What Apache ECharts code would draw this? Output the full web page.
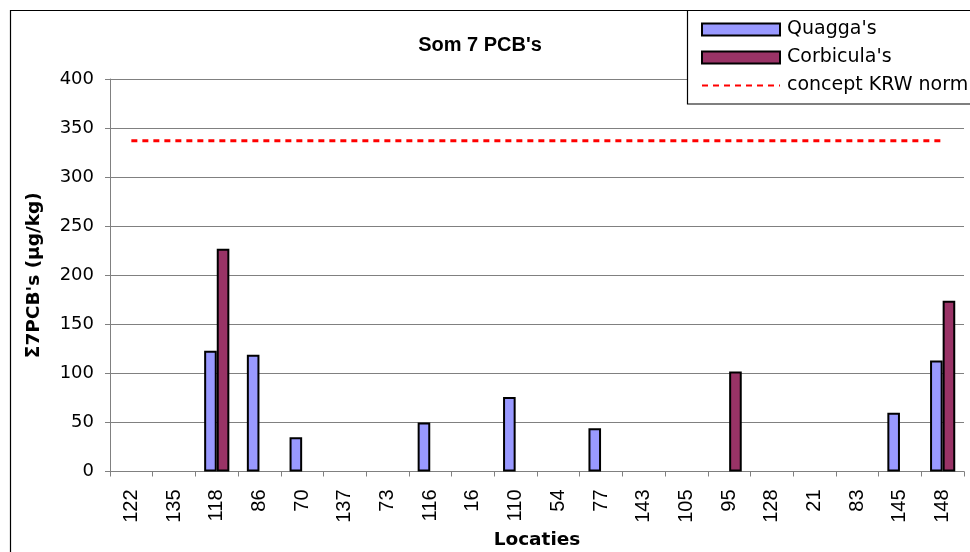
<!DOCTYPE html>
<html><head><meta charset="utf-8">
<script src="https://cdn.jsdelivr.net/npm/echarts@6/dist/echarts.min.js"></script>
<style>html,body{margin:0;padding:0;background:#fff}#c{width:970px;height:552px}</style>
</head><body><div id="c"></div>
<script>
var categories = ['122','135','118','86','70','137','73','116','16','110','54','77','143','105','95','128','21','83','145','148'];
var quagga =     [null, null, 123, 119, 35, null, null, 50, null, 76, null, 44, null, null, null, null, null, null, 60, 113];
var corbicula =  [null, null, 227, null, null, null, null, null, null, null, null, null, null, null, 102, null, null, null, null, 174];
var krwNorm = 337;
var krwLine = categories.map(function(){ return krwNorm; });
var yTicks = {min:0, max:400, interval:50};

var font = '"DejaVu Sans", sans-serif';
var fontA = '"Liberation Sans", Arial, sans-serif';
var chart = echarts.init(document.getElementById('c'), null, {renderer:'canvas'});
chart.setOption({
  animation:false,
  backgroundColor:'#fff',
  title:{text:"Som 7 PCB's", left:475, top:30, textAlign:'center',
    textStyle:{fontFamily:fontA, fontSize:20, fontWeight:'bold', color:'#000'}},
  graphic:[
    {type:'rect', shape:{x:10.5,y:10.5,width:1000,height:600}, style:{fill:null, stroke:'#000', lineWidth:1.2}, z:-1},
    {type:'rect', shape:{x:687.5,y:10.5,width:400,height:93.5}, style:{fill:'#fff', stroke:'#000', lineWidth:1.2}, z:1}
  ],
  legend:{orient:'vertical', left:696, top:15, itemWidth:78, itemHeight:12, itemGap:9, z:5,
    textStyle:{fontFamily:font, fontSize:19, color:'#000', padding:[0,0,0,2]},
    data:[{name:"Quagga's", icon:'rect'},{name:"Corbicula's", icon:'rect'},
      {name:"concept KRW norm", itemStyle:{opacity:0, borderWidth:0}}]},
  grid:{left:110, right:6, top:79, bottom:80.5, outerBoundsMode:'none', containLabel:false},
  xAxis:{type:'category', data:categories,
    name:'Locaties', nameLocation:'middle', nameGap:56,
    nameTextStyle:{fontFamily:font, fontSize:18.5, fontWeight:'bold', color:'#000'},
    axisLine:{lineStyle:{color:'#808080', width:1}},
    axisTick:{show:true, length:5, lineStyle:{color:'#808080'}},
    axisLabel:{rotate:90, fontFamily:fontA, fontSize:20, color:'#000', margin:18, interval:0},
    splitLine:{show:false}},
  yAxis:{type:'value', min:yTicks.min, max:yTicks.max, interval:yTicks.interval,
    name:"Σ7PCB's (µg/kg)", nameLocation:'middle', nameGap:66, nameRotate:90,
    nameTextStyle:{fontFamily:font, fontSize:18.5, fontWeight:'bold', color:'#000'},
    axisLine:{show:true, lineStyle:{color:'#808080', width:1}},
    axisTick:{show:true, length:5, lineStyle:{color:'#808080'}},
    axisLabel:{fontFamily:font, fontSize:18, color:'#000', margin:16},
    splitLine:{lineStyle:{color:'#808080', width:1}}},
  series:[
    {name:"Quagga's", type:'bar', data:quagga, barGap:'0%', barCategoryGap:'41%',
      itemStyle:{color:'#9999FF', borderColor:'#000', borderWidth:2}},
    {name:"Corbicula's", type:'bar', data:corbicula, barGap:'0%', barCategoryGap:'41%',
      itemStyle:{color:'#993366', borderColor:'#000', borderWidth:2}},
    {name:'concept KRW norm', type:'line', data:krwLine, symbol:'none', showSymbol:false,
      lineStyle:{color:'#FF0000', width:3, type:[6,5]}, itemStyle:{color:'#FF0000'}, z:3}
  ]
});
</script></body></html>
